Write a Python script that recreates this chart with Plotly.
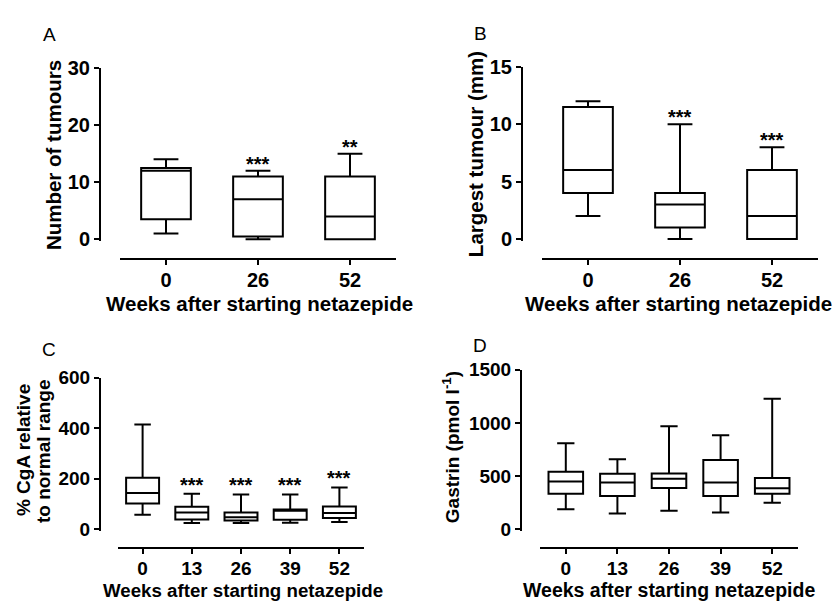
import plotly.graph_objects as go

W, H = 838, 609

# ---------------- data ----------------
weeks_ab = ["0", "26", "52"]
weeks_cd = ["0", "13", "26", "39", "52"]

# Panel A: number of tumours
a_min = [1, 0, 0]
a_q1 = [3.5, 0.5, 0]
a_med = [12, 7, 4]
a_q3 = [12.5, 11, 11]
a_max = [14, 12, 15]
a_sig = ["", "***", "**"]

# Panel B: largest tumour (mm)
b_min = [2, 0, 0]
b_q1 = [4, 1, 0]
b_med = [6, 3, 2]
b_q3 = [11.5, 4, 6]
b_max = [12, 10, 8]
b_sig = ["", "***", "***"]

# Panel C: % CgA relative to normal range
c_min = [58, 25, 25, 26, 29]
c_q1 = [102, 39, 35, 38, 45]
c_med = [144, 67, 48, 74, 65]
c_q3 = [204, 89, 67, 79, 90]
c_max = [414, 141, 138, 138, 166]
c_sig = ["", "***", "***", "***", "***"]

# Panel D: gastrin (pmol/l)
d_min = [190, 150, 175, 158, 250]
d_q1 = [334, 315, 388, 315, 334]
d_med = [450, 442, 477, 442, 386]
d_q3 = [542, 524, 525, 652, 482]
d_max = [810, 660, 970, 884, 1228]
d_sig = ["", "", "", "", ""]

# ---------------- helpers ----------------
def X(px):
    return px / W

def Y(py):
    return 1 - py / H

FONT = "Liberation Sans, Arial, sans-serif"

fig = go.Figure()

panels = [
    dict(k="", cats=weeks_ab, d=(a_min, a_q1, a_med, a_q3, a_max), sig=a_sig, bw=0.54,
         ypos=100, xdom=(120, 396), ypx=(59, 30, 236), rng=(-0.3, 30), tv=[0, 10, 20, 30],
         xline=256, tf=20, sshift=-6),
    dict(k="2", cats=weeks_ab, d=(b_min, b_q1, b_med, b_q3, b_max), sig=b_sig, bw=0.54,
         ypos=522, xdom=(542, 818), ypx=(57.7, 15, 235.7), rng=(-0.15, 15), tv=[0, 5, 10, 15],
         xline=256, tf=20, sshift=-6),
    dict(k="3", cats=weeks_cd, d=(c_min, c_q1, c_med, c_q3, c_max), sig=c_sig, bw=0.67,
         ypos=100, xdom=(118, 364), ypx=(379, 600, 536), rng=(-6, 600), tv=[0, 200, 400, 600],
         xline=555, tf=19, sshift=-4),
    dict(k="4", cats=weeks_cd, d=(d_min, d_q1, d_med, d_q3, d_max), sig=d_sig, bw=0.67,
         ypos=521, xdom=(540, 798), ypx=(371, 1500, 536), rng=(-15, 1500), tv=[0, 500, 1000, 1500],
         xline=555, tf=19, sshift=-4),
]

layout_axes = {}
annotations = []
for p in panels:
    k = p["k"]
    mn, q1, md, q3, mx = p["d"]
    fig.add_trace(go.Box(
        x=p["cats"], q1=q1, median=md, q3=q3, lowerfence=mn, upperfence=mx,
        xaxis="x" + k, yaxis="y" + k,
        width=p["bw"], whiskerwidth=0.5,
        line=dict(color="black", width=2), fillcolor="white",
        boxpoints=False, showlegend=False, hoverinfo="skip",
    ))
    py_top, v_top, py_bot = p["ypx"]
    scale = (py_bot - py_top) / v_top
    pix_min = py_bot - p["rng"][0] * scale
    pix_max = py_top - (p["rng"][1] - v_top) * scale
    layout_axes["xaxis" + k] = dict(
        domain=[X(p["xdom"][0]), X(p["xdom"][1])], anchor="free", position=Y(p["xline"]),
        type="category", range=[-0.5, len(p["cats"]) - 0.5],
        showline=True, linecolor="black", linewidth=2,
        ticks="outside", ticklen=5, tickwidth=2, tickcolor="black",
        ticklabelstandoff=-2,
        tickfont=dict(family=FONT, size=p["tf"], color="black", weight="bold"),
        showgrid=False, zeroline=False, fixedrange=True,
    )
    layout_axes["yaxis" + k] = dict(
        domain=[Y(pix_min), Y(pix_max)], anchor="free", position=X(p["ypos"]),
        range=list(p["rng"]), tickvals=p["tv"],
        showline=True, linecolor="black", linewidth=2,
        ticks="outside", ticklen=5, tickwidth=2, tickcolor="black",
        tickfont=dict(family=FONT, size=p["tf"], color="black", weight="bold"),
        showgrid=False, zeroline=False, fixedrange=True,
    )
    for i, (s, top) in enumerate(zip(p["sig"], mx)):
        if s:
            annotations.append(dict(
                x=i, y=top, xref="x" + k, yref="y" + k, text=s, showarrow=False,
                xanchor="center", yanchor="bottom", yshift=p["sshift"],
                font=dict(family=FONT, size=20, color="black", weight="bold"),
            ))

# panel letters
for txt, px, py in [("A", 49, 24), ("B", 480, 23), ("C", 49, 350), ("D", 480, 346)]:
    annotations.append(dict(x=X(px), y=Y(py), xref="paper", yref="paper", text=txt,
                            showarrow=False, xanchor="center", yanchor="middle",
                            font=dict(family=FONT, size=19, color="black")))

# y titles
for txt, px, py, fs in [("Number of tumours", 53, 149, 20.5),
                        ("Largest tumour (mm)", 475, 148, 20.5),
                        ("% CgA relative", 23, 454, 19),
                        ("to normal range", 43, 455, 19),
                        ("Gastrin (pmol l<sup>-1</sup>)", 451, 451, 19)]:
    annotations.append(dict(x=X(px), y=Y(py), xref="paper", yref="paper", text=txt,
                            textangle=-90, showarrow=False, xanchor="center", yanchor="middle",
                            font=dict(family=FONT, size=fs, color="black", weight="bold")))

# x titles
for px, py, fs in [(259, 302, 20.5), (678, 302, 20.5), (243, 599, 18.7), (669, 599, 19.5)]:
    annotations.append(dict(x=X(px), y=Y(py), xref="paper", yref="paper",
                            text="Weeks after starting netazepide",
                            showarrow=False, xanchor="center", yanchor="middle",
                            font=dict(family=FONT, size=fs, color="black", weight="bold")))

fig.update_layout(
    width=W, height=H, margin=dict(l=0, r=0, t=0, b=0),
    paper_bgcolor="white", plot_bgcolor="white",
    annotations=annotations, **layout_axes,
)

fig.write_html("out.html", config={"displayModeBar": False},
               post_script="document.body.style.margin='0';document.body.style.overflow='hidden';")
